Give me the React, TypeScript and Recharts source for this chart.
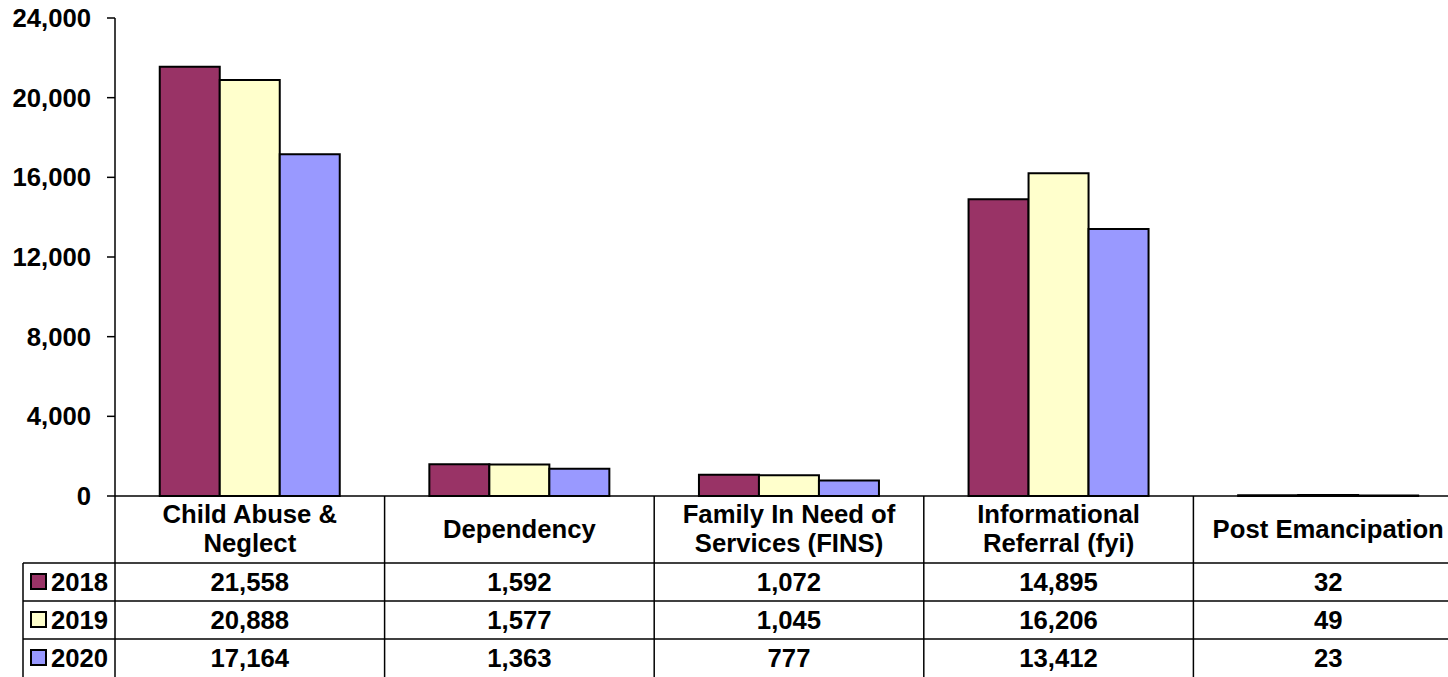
import { BarChart, Bar, XAxis, YAxis, Customized } from 'recharts';

const categories = [
  'Child Abuse &\nNeglect',
  'Dependency',
  'Family In Need of\nServices (FINS)',
  'Informational\nReferral (fyi)',
  'Post Emancipation',
];
const years = ['2018', '2019', '2020'];
const values2018 = [21558, 1592, 1072, 14895, 32];
const values2019 = [20888, 1577, 1045, 16206, 49];
const values2020 = [17164, 1363, 777, 13412, 23];
const yTicks = [0, 4000, 8000, 12000, 16000, 20000, 24000];
const colors = ['#993366', '#FFFFCC', '#9999FF'];

const seriesValues = [values2018, values2019, values2020];
const data = categories.map((name, i) => ({
  name,
  y2018: values2018[i],
  y2019: values2019[i],
  y2020: values2020[i],
}));

const CHART_W = 1463;
const CHART_H = 677;
const AXIS_W = 115;
const TOP = 18;
const PLOT_BOTTOM = 496;
const BAND = (CHART_W - AXIS_W) / categories.length;
const HEADER_BOTTOM = 563;
const ROW_H = 38;
const FONT = '"Liberation Sans", Arial, sans-serif';
const FS = 25.7;

const fmt = (v: number) => v.toLocaleString('en-US');

function TableTick(props: any) {
  const { x, payload } = props;
  const idx = payload.index;
  const lines = String(payload.value).split('\n');
  const left = x - BAND / 2;
  const right = x + BAND / 2;
  const baselines = lines.length === 1 ? [538] : [523, 552];
  return (
    <g>
      <line x1={right} x2={right} y1={PLOT_BOTTOM} y2={CHART_H} stroke="#000" strokeWidth={1.5} />
      {[0, 1, 2].map((r) => (
        <line
          key={r}
          x1={left}
          x2={right}
          y1={HEADER_BOTTOM + r * ROW_H}
          y2={HEADER_BOTTOM + r * ROW_H}
          stroke="#000"
          strokeWidth={1.5}
        />
      ))}
      {lines.map((l, i) => (
        <text key={i} x={x} y={baselines[i]} textAnchor="middle" fontFamily={FONT} fontWeight="bold" fontSize={FS} fill="#000">
          {l}
        </text>
      ))}
      {seriesValues.map((vals, r) => (
        <text
          key={r}
          x={x}
          y={HEADER_BOTTOM + r * ROW_H + ROW_H / 2 + 9}
          textAnchor="middle"
          fontFamily={FONT}
          fontWeight="bold"
          fontSize={FS}
          fill="#000"
        >
          {fmt(vals[idx])}
        </text>
      ))}
    </g>
  );
}

function LegendColumn() {
  return (
    <g>
      <line x1={AXIS_W} x2={AXIS_W} y1={PLOT_BOTTOM} y2={CHART_H} stroke="#000" strokeWidth={1.5} />
      <line x1={23} x2={23} y1={HEADER_BOTTOM} y2={CHART_H} stroke="#000" strokeWidth={1.5} />
      {years.map((yr, r) => {
        const top = HEADER_BOTTOM + r * ROW_H;
        return (
          <g key={yr}>
            <line x1={23} x2={AXIS_W} y1={top} y2={top} stroke="#000" strokeWidth={1.5} />
            <rect x={31} y={top + 11} width={15} height={15} fill={colors[r]} stroke="#000" strokeWidth={2} />
            <text x={51} y={top + ROW_H / 2 + 9} fontFamily={FONT} fontWeight="bold" fontSize={FS} fill="#000">
              {yr}
            </text>
          </g>
        );
      })}
    </g>
  );
}

export default function App() {
  return (
    <div style={{ position: 'absolute', left: 0, top: 0, width: 1448, height: 677, overflow: 'hidden', background: '#fff' }}>
      <BarChart
        width={CHART_W}
        height={CHART_H}
        data={data}
        margin={{ top: TOP, right: 0, left: 0, bottom: 0 }}
        barCategoryGap="16.6%"
        barGap={0}
      >
        <YAxis
          width={AXIS_W}
          domain={[0, 24000]}
          ticks={yTicks}
          interval={0}
          tickFormatter={fmt}
          axisLine={{ stroke: '#000', strokeWidth: 1.5 }}
          tickLine={{ stroke: '#000', strokeWidth: 1.5 }}
          tickSize={8}
          tickMargin={16}
          tick={{ fill: '#000', fontFamily: FONT, fontWeight: 'bold', fontSize: FS }}
        />
        <XAxis
          dataKey="name"
          height={CHART_H - PLOT_BOTTOM}
          axisLine={{ stroke: '#000', strokeWidth: 1.5 }}
          tickLine={false}
          interval={0}
          tick={<TableTick />}
        />
        {years.map((yr, i) => (
          <Bar key={yr} dataKey={`y${yr}`} name={yr} fill={colors[i]} stroke="#000" strokeWidth={2} isAnimationActive={false} />
        ))}
        <Customized component={<LegendColumn />} />
      </BarChart>
    </div>
  );
}
